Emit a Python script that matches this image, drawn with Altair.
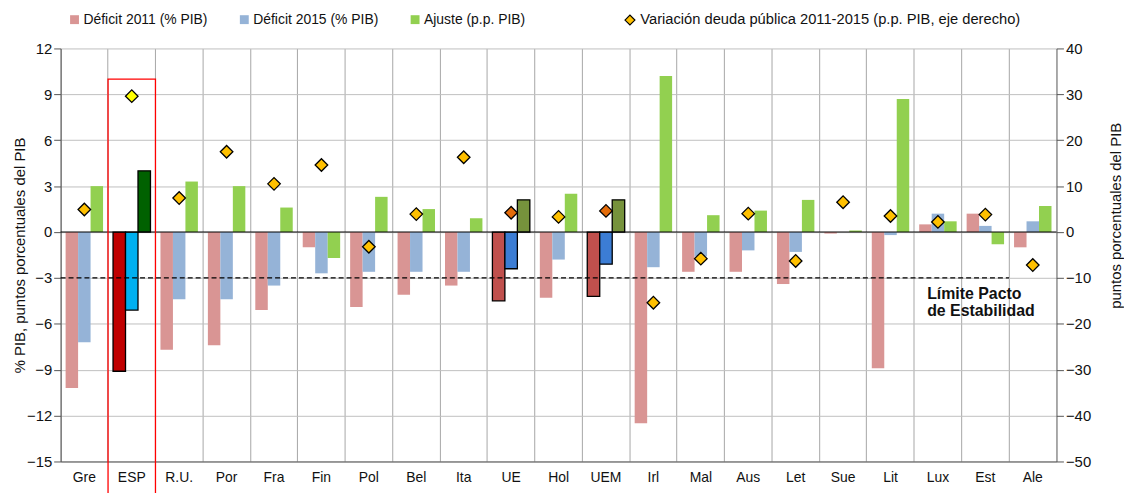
import altair as alt
import pandas as pd

countries = ["Gre", "ESP", "R.U.", "Por", "Fra", "Fin", "Pol", "Bel", "Ita", "UE", "Hol",
             "UEM", "Irl", "Mal", "Aus", "Let", "Sue", "Lit", "Lux", "Est", "Ale"]
def2011 = [-10.2, -9.1, -7.7, -7.4, -5.1, -1.0, -4.9, -4.1, -3.5, -4.5, -4.3,
           -4.2, -12.5, -2.6, -2.6, -3.4, -0.1, -8.9, 0.5, 1.2, -1.0]
def2015 = [-7.2, -5.1, -4.4, -4.4, -3.5, -2.7, -2.6, -2.6, -2.6, -2.4, -1.8,
           -2.1, -2.3, -1.6, -1.2, -1.3, 0.0, -0.2, 1.2, 0.4, 0.7]
ajuste = [3.0, 4.0, 3.3, 3.0, 1.6, -1.7, 2.3, 1.5, 0.9, 2.1, 2.5,
          2.1, 10.2, 1.1, 1.4, 2.1, 0.1, 8.7, 0.7, -0.8, 1.7]
deuda = [4.9, 29.6, 7.4, 17.5, 10.5, 14.6, -3.2, 3.9, 16.3, 4.2, 3.3,
         4.6, -15.4, -5.8, 4.0, -6.3, 6.5, 3.5, 2.2, 3.8, -7.2]

series = ["Déficit 2011 (% PIB)", "Déficit 2015 (% PIB)", "Ajuste (p.p. PIB)"]
series_colors = ["#d99594", "#95b3d7", "#92d050"]
deuda_label = "Variación deuda pública 2011-2015 (p.p. PIB, eje derecho)"

special_bar_colors = {
    "ESP": ["#c00000", "#00b0f0", "#006100"],
    "UE": ["#c0504d", "#3c7dd4", "#76923c"],
    "UEM": ["#c0504d", "#3c7dd4", "#76923c"],
}
diamond_colors = {"ESP": "#ffff00", "UE": "#e46c0a", "UEM": "#e46c0a"}

rows = []
for i, c in enumerate(countries):
    for j, (s, vals) in enumerate(zip(series, [def2011, def2015, ajuste])):
        rows.append({"pais": c, "serie": s, "valor": vals[i],
                     "especial": c in special_bar_colors,
                     "color": special_bar_colors.get(c, series_colors)[j]})
bars_df = pd.DataFrame(rows)
deuda_df = pd.DataFrame({"pais": countries, "deuda": deuda, "serie2": deuda_label,
                         "color": [diamond_colors.get(c, "#ffc000") for c in countries]})

FONT = "Liberation Sans"
W, H = 1003, 416

x_enc = alt.X("pais:N", sort=countries, scale=alt.Scale(paddingInner=0, paddingOuter=0),
              axis=alt.Axis(title=None, bandPosition=0, grid=True, ticks=False, labelAngle=0,
                            labelFontSize=14, labelPadding=9, labelColor="#111",
                            gridColor="#a6a6a6", domainColor="#555"))
xoff = alt.XOffset("serie:N", sort=series, scale=alt.Scale(paddingInner=0, paddingOuter=0.4))
yscale = alt.Scale(domain=[-15, 12], nice=False, zero=False)
y_axis = alt.Axis(title="% PIB, puntos porcentuales del PIB", values=list(range(-15, 13, 3)),
                  grid=True, gridColor="#c0c0c0", tickSize=7, labelFontSize=15,
                  labelColor="#111", titleFontSize=15, titleFontWeight="normal",
                  titleColor="#111", titleX=-33, titleY=208, titleAngle=270,
                  titleAlign="center", domainColor="#555", tickColor="#555")

bars = alt.Chart(bars_df).mark_bar().encode(
    x=x_enc,
    xOffset=xoff,
    y=alt.Y("valor:Q", scale=yscale, axis=y_axis, title="% PIB, puntos porcentuales del PIB"),
    fill=alt.Fill("serie:N", scale=alt.Scale(domain=series, range=series_colors),
                  legend=alt.Legend(title=None, orient="none", direction="horizontal",
                                    legendX=7, legendY=-36, symbolType="square",
                                    symbolSize=80, symbolStrokeWidth=0, labelFontSize=14,
                                    labelColor="#111", labelOffset=2, columnPadding=29,
                                    labelLimit=0)),
)

special = alt.Chart(bars_df).transform_filter("datum.especial").mark_bar(
    stroke="black", strokeWidth=1.3).encode(
    x=alt.X("pais:N", sort=countries),
    xOffset=xoff,
    y=alt.Y("valor:Q", scale=yscale, axis=y_axis, title="% PIB, puntos porcentuales del PIB"),
    fill=alt.Fill("color:N", scale=None, legend=None),
)

zero = alt.Chart().mark_rule(color="black", strokeWidth=1.2).encode(y=alt.datum(0))

dashed = alt.Chart().mark_rule(color="black", strokeWidth=1.3, strokeDash=[5, 3]).encode(
    x=alt.XDatum("Gre", bandPosition=0),
    x2=alt.X2Datum("Est", bandPosition=1),
    y=alt.datum(-3),
)

box = alt.Chart().mark_rect(fillOpacity=0, stroke="#ff0000", strokeWidth=1.3).encode(
    x=alt.datum("ESP"), y=alt.datum(10), y2=alt.datum(-18))

label = alt.Chart().mark_text(align="left", baseline="alphabetic", fontWeight="bold",
                              fontSize=16, dx=13, lineHeight=18, color="#111", font=FONT).encode(
    x=alt.XDatum("Lux", bandPosition=0), y=alt.datum(-4.35),
    text=alt.value(["Límite Pacto", "de Estabilidad"]))

left = alt.layer(bars, special, zero, dashed, box, label)

diamonds = alt.Chart(deuda_df).mark_point(filled=True, size=160, stroke="black",
                                          strokeWidth=1.3, opacity=1).encode(
    x=alt.X("pais:N", sort=countries),
    y=alt.Y("deuda:Q", scale=alt.Scale(domain=[-50, 40], nice=False, zero=False),
            axis=alt.Axis(orient="right", title="puntos porcentuales del PIB",
                          values=list(range(-50, 41, 10)), grid=False, tickSize=7,
                          labelFontSize=15, labelColor="#111", titleFontSize=15,
                          titleFontWeight="normal", titleColor="#111", titleAngle=270,
                          titleX=64, titleY=168, titleAlign="center",
                          titleBaseline="alphabetic", domainColor="#555", tickColor="#555")),
    fill=alt.Fill("color:N", scale=None, legend=None),
    shape=alt.Shape("serie2:N", scale=alt.Scale(domain=[deuda_label], range=["diamond"]),
                    legend=alt.Legend(title=None, orient="none", legendX=566, legendY=-36,
                                      symbolSize=100, symbolFillColor="#ffc000",
                                      symbolStrokeColor="black", symbolStrokeWidth=1.2,
                                      labelFontSize=14.8, labelColor="#111", labelOffset=3,
                                      labelLimit=0)),
)

chart = alt.layer(left, diamonds).resolve_scale(y="independent").properties(
    width=W, height=H,
    autosize=alt.AutoSizeParams(type="none"),
    padding={"left": 53, "top": 39, "right": 68, "bottom": 30},
).configure(font=FONT).configure_view(stroke=None)

chart.save("out.html", embed_options={"renderer": "svg", "actions": False})
